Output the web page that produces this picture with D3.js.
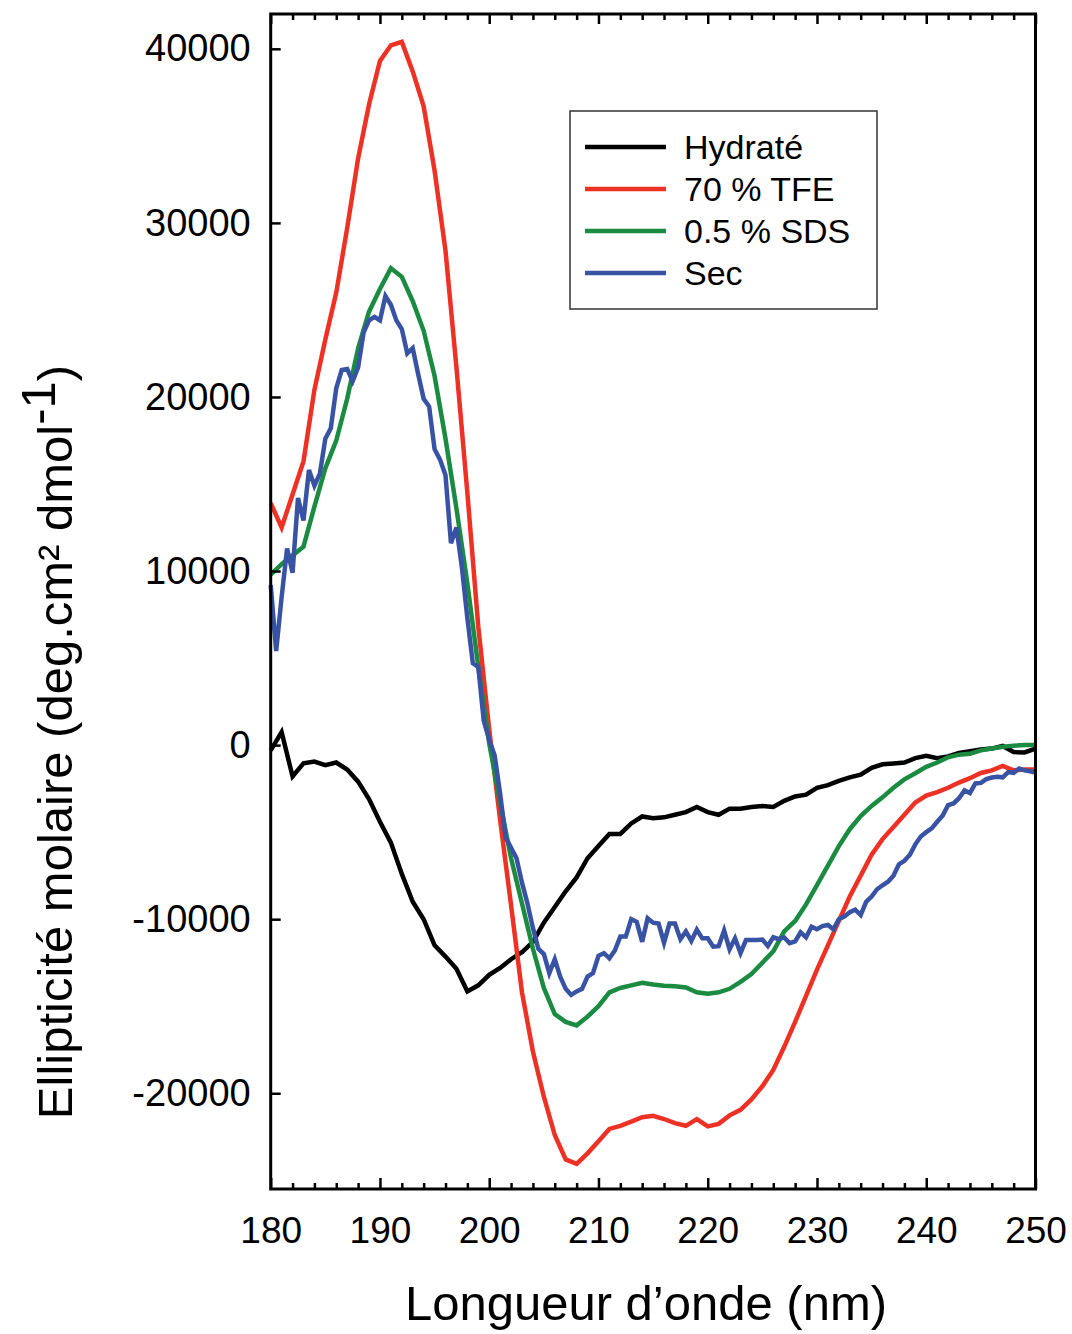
<!DOCTYPE html>
<html lang="fr">
<head>
<meta charset="utf-8">
<title>Ellipticité molaire</title>
<script src="https://d3js.org/d3.v7.min.js"></script>
<style>
  body { margin: 0; background: #fff; }
  svg { display: block; font-family: "Liberation Sans", Arial, Helvetica, sans-serif; }
  .tick text { fill: #000; }
</style>
</head>
<body>
<svg width="1072" height="1334"></svg>
<script>
// wavelengths (nm)
var wlStep1 = d3.range(180, 251, 1);
var wlStep05 = d3.range(0, 141).map(function(i) { return 180 + i * 0.5; });

// Hydraté
var hydrate = [
  -300, 750, -1800, -1050, -950, -1150, -1000, -1400, -2100, -3100,
  -4400, -5600, -7400, -9000, -10000, -11500, -12150, -12850, -14150, -13800,
  -13200, -12800, -12300, -11900, -11300, -10200, -9300, -8400, -7600, -6500,
  -5800, -5100, -5100, -4500, -4100, -4200, -4150, -4000, -3850, -3550,
  -3850, -4000, -3650, -3650, -3550, -3500, -3550, -3200, -2950, -2850,
  -2450, -2300, -2050, -1850, -1700, -1300, -1100, -1050, -1000, -750,
  -620, -750, -650, -450, -350, -250, -200, -50, -400, -420,
  -200
];

// 70 % TFE
var tfe = [
  13900, 12500, 14400, 16300, 20400, 23300, 26000, 29700, 33700, 36800,
  39300, 40200, 40400, 38700, 36700, 33000, 28400, 21700, 14500, 6800,
  900, -4300, -9200, -14200, -17600, -20200, -22400, -23800, -24050, -23450,
  -22750, -22050, -21870, -21630, -21380, -21300, -21480, -21720, -21870, -21490,
  -21900, -21760, -21270, -20950, -20350, -19600, -18660, -17330, -15900, -14400,
  -12900, -11500, -10100, -8700, -7500, -6300, -5400, -4700, -4000, -3300,
  -2900, -2700, -2450, -2150, -1900, -1600, -1450, -1200, -1450, -1400,
  -1400
];

// 0.5 % SDS
var sds = [
  9800, 10400, 10900, 11400, 13700, 15900, 17500, 19900, 22800, 24900,
  26200, 27400, 26900, 25500, 23800, 21200, 17600, 13600, 9300, 4500,
  100, -3300, -6500, -9100, -11700, -13950, -15450, -15900, -16100, -15600,
  -15000, -14200, -13950, -13800, -13650, -13750, -13830, -13850, -13920, -14200,
  -14280, -14200, -14000, -13600, -13150, -12500, -11850, -10700, -10100, -9150,
  -8040, -6920, -5800, -4830, -4080, -3490, -3000, -2450, -1970, -1620,
  -1250, -1000, -700, -550, -500, -300, -200, -100, -30, 0,
  0
];

// Sec (0.5 nm step)
var sec = [
  9200, 5400, 8500, 11300, 9900, 14200, 12900, 15800, 14900, 15600,
  17600, 18200, 20500, 21550, 21600, 20900, 21700, 23700, 24400, 24600,
  24400, 25800, 25300, 24400, 23900, 22500, 22800, 21300, 19900, 19450,
  17000, 16400, 15500, 11600, 12500, 10200, 7300, 4700, 4500, 1400,
  300, -600, -2800, -5300, -5900, -6500, -7900, -9100, -10500, -11700,
  -12000, -13100, -12300, -13300, -14000, -14350, -14150, -14000, -13300, -13100,
  -12100, -11950, -12250, -11800, -11000, -11000, -10000, -10150, -11300, -9950,
  -10200, -10250, -11350, -10250, -10250, -11150, -10700, -11250, -10600, -11100,
  -11100, -11580, -11550, -10650, -11730, -11100, -11950, -11200, -11200, -11200,
  -11170, -11540, -11040, -11150, -11050, -11380, -11280, -10750, -11040, -10430,
  -10580, -10400, -10330, -10580, -10000, -9850, -9600, -9450, -9760, -9000,
  -8700, -8280, -8050, -7850, -7500, -6850, -6650, -6300, -5700, -5250,
  -5000, -4780, -4400, -4050, -3450, -3350, -3050, -2600, -2750, -2200,
  -2170, -1950, -1860, -1820, -1850, -1550, -1590, -1350, -1450, -1500,
  -1580
];

var seriesNames = ["Hydraté", "70 % TFE", "0.5 % SDS", "Sec"];
var seriesColors = ["#000000", "#ed3125", "#1a8b41", "#3953a4"];

var xMajor = [180, 190, 200, 210, 220, 230, 240, 250];
var xMinor = d3.range(182, 250, 2).filter(function(v) { return v % 10 !== 0; });
var yMajor = [-20000, -10000, 0, 10000, 20000, 30000, 40000];

var svg = d3.select("svg");
var plotL = 270.7, plotR = 1035.5, plotT = 14, plotB = 1189;

var x = d3.scaleLinear().domain([180, 250]).range([plotL, plotR]);
var y = d3.scaleLinear().domain([-25500, 42000]).range([plotB, plotT]);

var series = [
  { name: seriesNames[0], color: seriesColors[0], wl: wlStep1, v: hydrate },
  { name: seriesNames[1], color: seriesColors[1], wl: wlStep1, v: tfe },
  { name: seriesNames[2], color: seriesColors[2], wl: wlStep1, v: sds },
  { name: seriesNames[3], color: seriesColors[3], wl: wlStep05, v: sec }
];

var line = d3.line()
  .x(function(d) { return x(d[0]); })
  .y(function(d) { return y(d[1]); });

svg.append("g")
  .selectAll("path")
  .data(series)
  .enter().append("path")
  .attr("fill", "none")
  .attr("stroke", function(d) { return d.color; })
  .attr("stroke-width", 4.5)
  .attr("stroke-linejoin", "miter")
  .attr("d", function(d) { return line(d.wl.map(function(w, i) { return [w, d.v[i]]; })); });

// axes
function styleAxis(size) {
  return function(g) {
    g.select(".domain").remove();
    g.selectAll(".tick line").attr("stroke", "#000").attr("stroke-width", 2.5);
    g.selectAll(".tick text").attr("font-size", size);
  };
}
var plainNum = function(d) { return String(d); };

svg.append("g")
  .attr("transform", "translate(0," + plotB + ")")
  .call(d3.axisBottom(x).tickValues(xMajor).tickSize(-11).tickPadding(28).tickFormat(plainNum))
  .call(styleAxis(37));

svg.append("g")
  .attr("transform", "translate(0," + plotB + ")")
  .call(d3.axisBottom(x).tickValues(xMinor).tickSize(-6).tickFormat(""))
  .call(styleAxis(37));

svg.append("g")
  .attr("transform", "translate(0," + plotT + ")")
  .call(d3.axisTop(x).tickValues(xMajor).tickSize(-10).tickFormat(""))
  .call(styleAxis(37));

svg.append("g")
  .attr("transform", "translate(0," + plotT + ")")
  .call(d3.axisTop(x).tickValues(xMinor).tickSize(-6).tickFormat(""))
  .call(styleAxis(37));

svg.append("g")
  .attr("transform", "translate(" + plotL + ",0)")
  .call(d3.axisLeft(y).tickValues(yMajor).tickSize(-10).tickPadding(20).tickFormat(plainNum))
  .call(styleAxis(38));

// frame
svg.append("rect")
  .attr("x", plotL).attr("y", plotT)
  .attr("width", plotR - plotL).attr("height", plotB - plotT)
  .attr("fill", "none").attr("stroke", "#000").attr("stroke-width", 3);

// axis titles
svg.append("text")
  .attr("x", 646)
  .attr("y", 1320)
  .attr("text-anchor", "middle")
  .attr("font-size", 49)
  .text("Longueur d’onde (nm)");

var yt = svg.append("text")
  .attr("transform", "translate(72,742) rotate(-90)")
  .attr("text-anchor", "middle")
  .attr("font-size", 49);
yt.append("tspan").text("Ellipticité molaire (deg.cm² dmol");
yt.append("tspan").attr("dy", -17).text("-1");
yt.append("tspan").attr("dy", 17).text(")");

// legend
var lg = svg.append("g").attr("transform", "translate(570,111)");
lg.append("rect")
  .attr("width", 307).attr("height", 198)
  .attr("fill", "#fff").attr("stroke", "#333").attr("stroke-width", 1.5);

var item = lg.selectAll(".item")
  .data(series)
  .enter().append("g")
  .attr("class", "item")
  .attr("transform", function(d, i) { return "translate(0," + (36 + i * 42) + ")"; });

item.append("line")
  .attr("x1", 15).attr("x2", 96)
  .attr("stroke", function(d) { return d.color; })
  .attr("stroke-width", 4.5);

item.append("text")
  .attr("x", 114)
  .attr("dy", "0.36em")
  .attr("font-size", 34)
  .text(function(d) { return d.name; });
</script>
</body>
</html>
